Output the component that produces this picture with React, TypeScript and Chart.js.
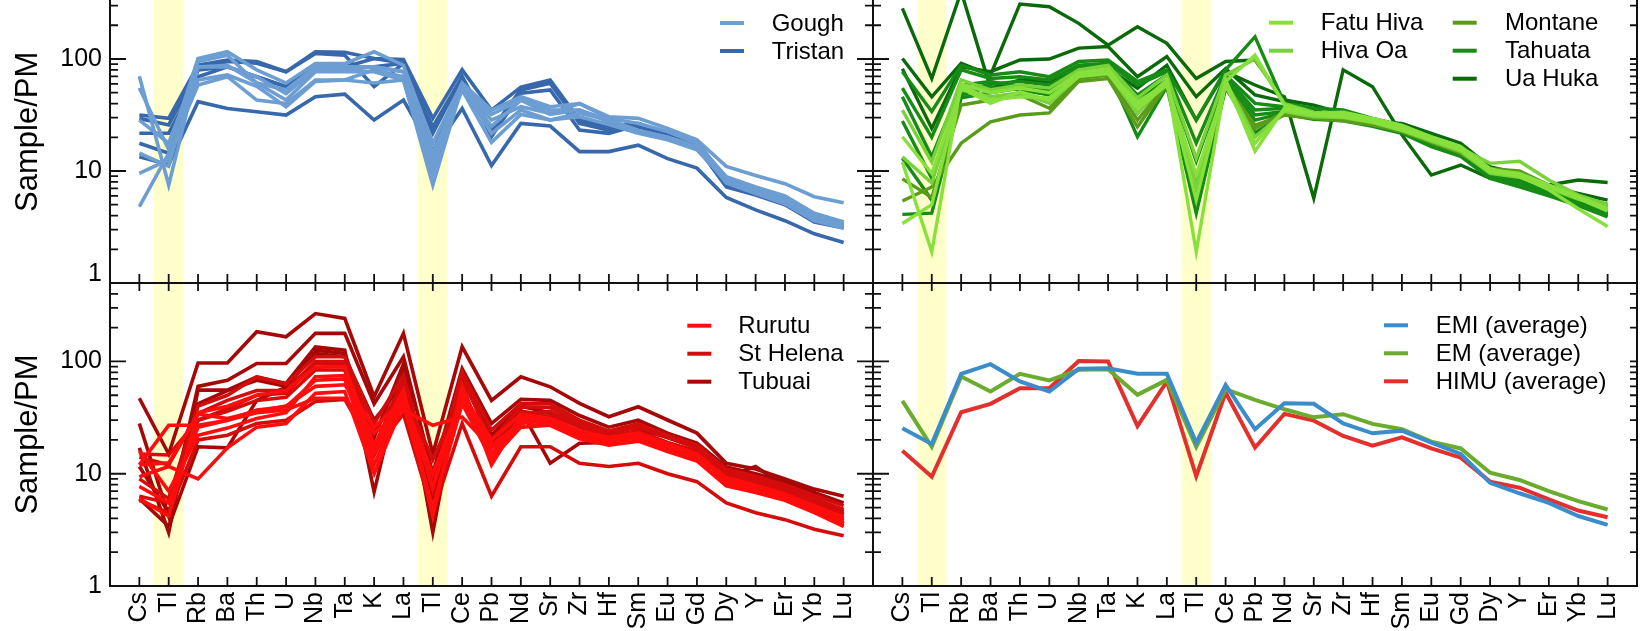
import { useEffect, useRef } from 'react';
import { Chart, registerables } from 'chart.js';

Chart.register(...registerables);

const FONT = "'Liberation Sans', Arial, Helvetica, sans-serif";
Chart.defaults.font.family = FONT;
Chart.defaults.color = '#000';

// Primitive-mantle normalised element order (Tl appears twice)
const elements = ['Cs', 'Tl', 'Rb', 'Ba', 'Th', 'U', 'Nb', 'Ta', 'K', 'La', 'Tl', 'Ce', 'Pb', 'Nd', 'Sr', 'Zr', 'Hf', 'Sm', 'Eu', 'Gd', 'Dy', 'Y', 'Er', 'Yb', 'Lu'];
const highlightedIdx = [1, 10];
const majorTicks = [1, 10, 100];
const minorTicks = [2, 3, 4, 5, 6, 7, 8, 9, 20, 30, 40, 50, 60, 70, 80, 90, 200, 300, 400];

// ---- Gough / Tristan ----
const gough1 = [70, 7.5, 85, 88, 61, 43, 77, 77, 77, 65, 7.5, 57, 32, 43, 35, 35, 28.5, 23, 20, 16.5, 8.3, 6.7, 5.5, 3.9, 3.3];
const gough2 = [55, 15.5, 101, 116, 80, 61, 91, 91, 116, 88, 17.7, 61, 35, 46, 37.5, 40, 30.5, 29.5, 24, 19, 11, 9.1, 7.7, 5.9, 5.2];
const gough3 = [14.4, 11, 95, 108, 61, 53, 85, 85, 85, 77, 14.4, 55, 25, 43, 32, 35, 27.5, 22.5, 19.5, 16, 8.5, 6.9, 5.7, 4.0, 3.4];
const gough4 = [9.5, 12.6, 65, 72, 57, 37.5, 63, 65, 80, 69.5, 11, 53, 18, 32, 28.5, 30.5, 26, 21.7, 19, 15.5, 8.1, 6.5, 5.3, 3.8, 3.2];
const gough5 = [4.8, 14.4, 58.6, 69.5, 43, 40, 65, 65, 61, 65, 9.5, 57, 21.7, 35, 28.5, 32.7, 28.5, 23, 20, 16.5, 7.8, 6.3, 5.1, 3.6, 3.1];
const gough6 = [28.5, 17.7, 85, 85, 69.5, 49, 80, 80, 85, 77, 12.6, 59, 28.5, 37.5, 32.7, 40, 29.5, 26.6, 22.5, 17.7, 8.9, 7.2, 6.0, 4.2, 3.5];

const tristan1 = [13.4, 11.4, 41.6, 36.2, 33.8, 31.6, 46, 48.6, 28.5, 43, 15, 36.2, 11.2, 26.6, 25.2, 14.9, 14.9, 17, 12.9, 10.6, 5.8, 4.5, 3.6, 2.75, 2.3];
const tristan2 = [31.6, 29.5, 88, 98, 95, 77, 116, 115, 101, 99, 29.5, 80, 35, 56, 65, 28.5, 25, 26.6, 21.7, 18.4, 8.3, 6.8, 5.6, 3.9, 3.4];
const tristan3 = [29.5, 25.8, 80, 95, 91.5, 77, 112, 108, 56.6, 91.5, 24.8, 69.5, 23.2, 53, 60.6, 26.6, 23.2, 24.8, 21, 17.7, 8.1, 6.6, 5.5, 3.9, 3.4];
const tristan4 = [21.7, 21.7, 69.5, 85, 69.5, 56.6, 85, 85, 101, 91.5, 21.7, 69.5, 20.3, 49.4, 53, 23.2, 21.7, 25.7, 21.7, 17, 7.5, 6.3, 5.1, 3.6, 3.2];
const tristan5 = [17.7, 14.4, 80, 85, 69.5, 56.6, 85, 85, 85, 91.5, 14.4, 65, 23.2, 53, 63, 27.5, 23.2, 24.8, 20.3, 16.5, 7.2, 6.1, 5.0, 3.5, 3.1];

// ---- Marquesas ----
const fatuHiva1 = [12, 1.9, 60, 50, 55, 50, 75, 82, 38, 65, 1.9, 63, 108, 38.8, 32.7, 33.5, 29.5, 25.5, 20.2, 16.5, 10.5, 9, 6.8, 4.6, 3.2];
const fatuHiva2 = [3.4, 5.0, 58.6, 43, 46, 45, 72, 77, 41.6, 60, 5.5, 65, 15, 36.3, 31.6, 31.6, 28, 24, 19.5, 15.5, 10.2, 9.5, 7.5, 5.9, 4.6];
const fatuHiva3 = [20.2, 9.5, 55, 40.2, 51, 43, 70, 74, 36.3, 58.6, 9.2, 58, 17.7, 35, 31.6, 30.5, 27.5, 23.2, 19, 15.5, 9.8, 9, 7.2, 5.7, 4.4];
const hivaOa1 = [35, 12, 65, 53, 58.6, 55, 80, 88, 45, 72, 13, 72, 100, 40, 33.5, 33, 29, 25, 19.8, 16, 11.7, 12.2, 8.3, 6.1, 5.0];
const hivaOa2 = [13.4, 7.8, 53, 46, 50, 40.2, 70, 75, 32.7, 63, 7.2, 63, 20, 34, 30.5, 30, 27, 23, 18.5, 15, 9.5, 8.8, 7, 5.6, 4.8];
const montane1 = [5.4, 7.2, 17.7, 27.5, 31.6, 33, 63, 67, 24.8, 58.6, 6.8, 58.6, 25.7, 31.6, 29.5, 28, 25.7, 22.5, 18.9, 15, 10.5, 10, 7.5, 6, 4.8];
const montane2 = [8.5, 5.8, 38.8, 43, 47.7, 36.3, 67, 72, 28.5, 60, 6.3, 56.6, 24, 34, 30, 29.5, 26.6, 22.5, 18, 14.4, 9.8, 9, 7.3, 6.1, 5.0];
const tahuata1 = [77, 34, 88, 72, 77, 69.5, 95, 98, 63, 80, 28.5, 80, 158, 40.2, 36.3, 35, 29.5, 25.7, 20.2, 16, 10.2, 8.6, 7, 5.7, 4.6];
const tahuata2 = [55, 20, 80, 67, 69.5, 65, 88, 91.5, 58.6, 77, 17.7, 72, 40.2, 37.5, 32.7, 32.7, 28.5, 24, 19.5, 15.5, 9.5, 8, 6.7, 5.5, 4.2];
const tahuata3 = [46, 13.4, 58.6, 63, 56.6, 54.7, 85, 88, 47.7, 72, 12.2, 69.5, 35, 36.3, 32.7, 31.6, 27.5, 23.2, 18.9, 15, 9.2, 7.8, 6.5, 5.3, 4.1];
const tahuata4 = [28, 8.6, 51, 60, 63, 58.6, 82, 85, 43, 65, 8.3, 65, 31.6, 34, 30.5, 30.5, 26.6, 22.5, 18.2, 14.4, 9, 7.6, 6.4, 5.2, 4.3];
const tahuata5 = [13, 5.5, 47.7, 56.6, 53, 47.7, 77, 80, 32.7, 63, 4.5, 60, 28.5, 33, 29.5, 29, 25.7, 22, 17.7, 14, 8.8, 7.4, 6.2, 5.0, 4.0];
const tahuata6 = [4.1, 4.2, 45, 50, 55, 52, 75, 78, 20.2, 56.6, 4.2, 55, 22, 32, 29, 28, 25, 21.7, 16.5, 13.5, 8.6, 7.2, 6.0, 4.9, 3.9];
const uaHuka1 = [283, 67, 400, 55, 65, 63, 80, 82, 55, 88, 28.5, 77, 58.6, 46, 5.7, 80, 56.6, 21, 9.2, 11.3, 8.6, 8.3, 7.5, 8.3, 7.9];
const uaHuka2 = [101, 46, 91.5, 72, 310, 293, 208, 133, 194, 138, 67, 95, 98, 43, 38.8, 32.7, 27.5, 26.6, 21.7, 17.7, 10.9, 9.5, 7.2, 6.3, 5.5];
const uaHuka3 = [82, 24, 85, 77, 98, 100, 125, 129, 69.5, 105, 46, 82, 47.7, 41.6, 35, 30.5, 26.6, 24, 17.7, 14.4, 9.5, 8.3, 7.2, 5.9, 5.0];

// ---- Austral / St Helena ----
const rurutu1 = [12, 27, 27, 30, 35, 37, 47, 47, 23, 37, 27, 32, 17, 26, 28, 21, 19, 20, 16.3, 13.3, 8.2, 7.2, 6.2, 4.8, 3.9];
const rurutu2 = [9.4, 11.6, 9, 17, 26, 28, 52, 54, 10, 42, 5, 42, 13.5, 26, 27, 20.5, 18, 19.5, 15.8, 13, 7.8, 6.8, 5.8, 4.5, 3.4];
const rurutu3 = [6, 4.2, 35, 40, 50, 55, 89, 90, 18, 56, 4.2, 60, 12, 32, 30, 23, 20, 22, 18, 14.5, 9, 7.7, 6.5, 5.1, 4.0];
const rurutu4 = [7.7, 5.5, 26, 30, 36.9, 39.5, 68, 70, 12, 48.5, 4.8, 48, 15, 30, 28, 22, 19, 20.5, 16.8, 14, 8.6, 7.4, 6.2, 4.9, 3.8];
const rurutu5 = [12, 12.5, 34, 31, 36, 40, 60, 62, 26, 45, 10, 45, 18, 28, 30, 22, 19.5, 21, 17, 14, 8.4, 7.3, 6.1, 4.8, 3.6];
const rurutu6 = [16, 7, 22, 25.5, 31, 35, 73, 75, 15, 52, 7.5, 52, 20, 34, 31, 24, 21, 23, 18.5, 15, 9.2, 7.9, 6.6, 5.2, 4.1];
const stHelena1 = [9, 6, 40, 50, 73, 63, 110, 110, 28, 75, 8, 80, 24.5, 42, 42, 30, 24, 28, 22, 18, 11, 9.5, 8, 6.4, 5.2];
const stHelena2 = [14, 12, 34.5, 45, 55, 55, 100, 100, 17, 70, 7, 70, 20, 39.5, 39, 28, 23, 26, 21, 17, 10.5, 9, 7.5, 6, 4.8];
const stHelena3 = [6.3, 5.5, 30, 38, 50, 52, 96, 95, 23, 62, 4.5, 62, 13, 36, 33, 26, 22, 24, 19, 16, 10, 8.5, 7, 5.6, 4.4];
const stHelena4 = [15, 14.7, 30, 36, 45, 48, 84, 84, 14.5, 53, 13.3, 52, 17, 34, 36, 26, 21.5, 23.5, 18.7, 15.2, 9.4, 8.2, 6.8, 5.5, 4.3];
const stHelena5 = [5.8, 4.5, 20, 22, 28, 30, 44, 46, 16, 34, 4.5, 28, 6.3, 17.4, 17.4, 12.4, 11.6, 12.4, 10, 8.5, 5.5, 4.5, 3.9, 3.2, 2.8];
const tubuai1 = [47, 15, 97, 97, 184, 166, 267, 242, 48.5, 178, 15, 135, 45, 73, 59.5, 42.3, 32.2, 39.5, 30.1, 23, 12.4, 11, 9, 7.3, 6.3];
const tubuai2 = [28, 4.2, 60, 68, 96, 96, 178, 178, 42, 110, 10, 86, 28, 46, 45, 33, 26, 30, 23, 18.7, 11.5, 10, 8.5, 6.8, 5.5];
const tubuai3 = [17, 3.0, 55.6, 55.6, 73, 63.7, 135, 126, 6.9, 85, 3.0, 73, 19, 36.9, 12.4, 18.7, 19, 25, 21, 17, 9.4, 11.6, 7.7, 6, 4.6];
const tubuai4 = [11.6, 4.5, 42, 55, 68, 60, 126, 118, 21, 95, 5.5, 68, 22, 40, 35, 28, 23, 27, 22, 17.5, 10, 9, 7.2, 5.4, 3.6];
const tubuai5 = [6, 3.4, 17.4, 17, 45, 59, 118, 110, 30, 63.7, 6, 55, 15, 30, 30, 24, 20, 22, 18, 15, 9, 8, 6.5, 4.9, 3.4];

// ---- Mantle end-member averages ----
const emiAverage = [25.4, 18.4, 77.6, 94.6, 66.3, 54, 86, 87, 77.6, 77.6, 18.9, 61.9, 24.9, 42.5, 42, 28.1, 22.9, 24.2, 18.9, 15.0, 8.3, 6.7, 5.5, 4.2, 3.5];
const emAverage = [44.5, 17.4, 73.5, 54, 77.6, 67.7, 84.3, 85.4, 50.4, 68.6, 17.4, 56.6, 45.5, 37.5, 31.8, 33.9, 27.8, 24.9, 19.3, 16.8, 10.2, 8.8, 7.0, 5.7, 4.8];
const himuAverage = [16.0, 9.4, 35.3, 41.9, 57.8, 57.8, 101, 100, 26.6, 66.3, 9.5, 52.9, 17.1, 34.1, 29.7, 21.7, 17.8, 21.1, 16.8, 13.9, 8.5, 7.5, 5.9, 4.7, 4.1];

type Series = { label: string; color: string; lines: number[][] };
type LegendEntry = { label: string; color: string; dx0: number; dx1: number; tx: number; dy: number };
type Pad = { left: number; right: number; top: number; bottom: number };
type PanelProps = {
  left: number; top: number; width: number; height: number; padding: Pad;
  series: Series[]; legend: LegendEntry[]; lineWidth: number;
  showY: boolean; showX: boolean; liftBottomLabel: boolean; rightTicks: [number, number];
};

const BAND_FILL = 'rgb(255,255,204)';
const INK = '#111';
const X_LABEL_BAND = 45;

const gough: Series = { label: 'Gough', color: '#6C9DD3', lines: [gough1, gough2, gough3, gough4, gough5, gough6] };
const tristan: Series = { label: 'Tristan', color: '#3868AC', lines: [tristan1, tristan2, tristan3, tristan4, tristan5] };
const fatuHiva: Series = { label: 'Fatu Hiva', color: '#88E03C', lines: [fatuHiva1, fatuHiva2, fatuHiva3] };
const hivaOa: Series = { label: 'Hiva Oa', color: '#78D23A', lines: [hivaOa1, hivaOa2] };
const montane: Series = { label: 'Montane', color: '#5A9C1A', lines: [montane1, montane2] };
const tahuata: Series = { label: 'Tahuata', color: '#168C16', lines: [tahuata1, tahuata2, tahuata3, tahuata4, tahuata5, tahuata6] };
const uaHuka: Series = { label: 'Ua Huka', color: '#0A6A0A', lines: [uaHuka1, uaHuka2, uaHuka3] };
const rurutu: Series = { label: 'Rurutu', color: '#FF0C0C', lines: [rurutu1, rurutu2, rurutu3, rurutu4, rurutu5, rurutu6] };
const stHelena: Series = { label: 'St Helena', color: '#D40C0C', lines: [stHelena1, stHelena2, stHelena3, stHelena4, stHelena5] };
const tubuai: Series = { label: 'Tubuai', color: '#A60808', lines: [tubuai1, tubuai2, tubuai3, tubuai4, tubuai5] };
const emi: Series = { label: 'EMI (average)', color: '#3A8CCA', lines: [emiAverage] };
const em: Series = { label: 'EM (average)', color: '#6BAC2E', lines: [emAverage] };
const himu: Series = { label: 'HIMU (average)', color: '#E3302C', lines: [himuAverage] };

function legendColumn(items: Series[], dx0: number, tx: number, dy0: number): LegendEntry[] {
  return items.map((s, i) => ({ label: s.label, color: s.color, dx0, dx1: dx0 + 24, tx, dy: dy0 + i * 28 }));
}

function makeFrame(p: PanelProps) {
  return {
    id: 'spiderFrame',
    beforeDatasetsDraw(chart: any) {
      const { ctx, chartArea: a } = chart;
      const x = chart.scales.x;
      ctx.save();
      ctx.fillStyle = BAND_FILL;
      for (const c of highlightedIdx) {
        const x0 = x.getPixelForValue(c - 0.5);
        const x1 = x.getPixelForValue(c + 0.5);
        ctx.fillRect(x0, a.top, x1 - x0, a.bottom - a.top);
      }
      ctx.restore();
    },
    afterDatasetsDraw(chart: any) {
      const { ctx, chartArea: a } = chart;
      const { x, y } = chart.scales;
      ctx.save();
      ctx.strokeStyle = INK;
      ctx.lineWidth = 1.8;
      ctx.beginPath();
      elements.forEach((_, i) => {
        const px = x.getPixelForValue(i);
        ctx.moveTo(px, a.bottom);
        ctx.lineTo(px, a.bottom - 9);
        ctx.moveTo(px, a.top);
        ctx.lineTo(px, a.top + 8);
      });
      const yTick = (v: number, inLeft: number, inRight: number) => {
        const py = y.getPixelForValue(v);
        ctx.moveTo(a.left, py);
        ctx.lineTo(a.left + inLeft, py);
        ctx.moveTo(a.right, py);
        ctx.lineTo(a.right - inRight, py);
      };
      majorTicks.filter((v) => v > 1).forEach((v) => yTick(v, 16, p.rightTicks[0]));
      minorTicks.forEach((v) => yTick(v, 8, p.rightTicks[1]));
      ctx.stroke();
      ctx.lineWidth = 2;
      ctx.strokeRect(a.left, a.top, a.right - a.left, a.bottom - a.top);
      ctx.restore();
    },
    afterDraw(chart: any) {
      const { ctx, chartArea: a } = chart;
      ctx.save();
      ctx.font = `24px ${FONT}`;
      ctx.textBaseline = 'middle';
      ctx.textAlign = 'left';
      ctx.fillStyle = '#000';
      for (const e of p.legend) {
        const yy = a.top + e.dy;
        ctx.strokeStyle = e.color;
        ctx.lineWidth = 4;
        ctx.lineCap = 'butt';
        ctx.beginPath();
        ctx.moveTo(a.right + e.dx0, yy);
        ctx.lineTo(a.right + e.dx1, yy);
        ctx.stroke();
        ctx.fillText(e.label, a.right + e.tx, yy + 1);
      }
      ctx.restore();
    },
  };
}

function Panel(p: PanelProps) {
  const ref = useRef<HTMLCanvasElement>(null);
  useEffect(() => {
    const canvas = ref.current;
    if (!canvas) return;
    const datasets = p.series.flatMap((s) =>
      s.lines.map((vals) => ({
        label: s.label,
        data: vals.map((v, i) => ({ x: i, y: v })),
        borderColor: s.color,
        backgroundColor: s.color,
        borderWidth: p.lineWidth,
        pointRadius: 0,
        pointHoverRadius: 0,
        fill: false,
        tension: 0,
      }))
    );
    const chart = new Chart(canvas, {
      type: 'line',
      data: { datasets },
      options: {
        responsive: false,
        animation: false,
        events: [],
        layout: { padding: p.padding },
        plugins: { legend: { display: false }, tooltip: { enabled: false } },
        scales: {
          x: {
            type: 'linear',
            min: -1,
            max: 25,
            display: p.showX,
            grid: { display: false, drawTicks: false },
            border: { display: false },
            afterBuildTicks: (s: any) => {
              s.ticks = elements.map((_, i) => ({ value: i }));
            },
            ticks: {
              autoSkip: false,
              minRotation: 90,
              maxRotation: 90,
              padding: 6,
              color: '#000',
              font: { size: 25, family: FONT },
              callback: (v: any) => elements[Math.round(Number(v))] ?? '',
            },
            afterFit: (s: any) => {
              s.height = p.showX ? X_LABEL_BAND : 0;
              s.paddingLeft = 0;
              s.paddingRight = 0;
            },
          },
          y: {
            type: 'logarithmic',
            min: 1,
            max: 500,
            display: p.showY,
            grid: { display: false, drawTicks: false },
            border: { display: false },
            afterBuildTicks: (s: any) => {
              s.ticks = majorTicks.map((v) => ({ value: v }));
            },
            ticks: {
              padding: 8,
              color: '#000',
              font: (c: any) => ({
                size: 25,
                family: FONT,
                lineHeight: p.liftBottomLabel && c.tick && c.tick.value === 1 ? '18px' : 1.2,
              }),
              callback: (v: any) => (p.liftBottomLabel && Number(v) === 1 ? ['1', ''] : String(v)),
            },
            title: {
              display: true,
              text: 'Sample/PM',
              color: '#000',
              font: { size: 31, family: FONT },
              padding: { top: 10, bottom: 0 },
            },
            afterFit: (s: any) => {
              s.width = p.showY ? 110 : 0;
              s.paddingTop = 0;
              s.paddingBottom = 0;
            },
          },
        },
      } as any,
      plugins: [makeFrame(p) as any],
    });
    return () => chart.destroy();
  }, []);
  return (
    <canvas
      ref={ref}
      width={p.width}
      height={p.height}
      style={{ position: 'absolute', left: p.left, top: p.top, width: p.width, height: p.height }}
    />
  );
}

export default function App() {
  const topPad = { top: 10.7, bottom: 17 };
  const botPad = { top: 13, bottom: 0 };
  return (
    <div style={{ position: 'absolute', left: 0, top: 0, width: 1640, height: 631, overflow: 'hidden', background: '#fff' }}>
      <Panel
        left={0} top={-30} width={880} height={330}
        padding={{ left: 0, right: 7, ...topPad }}
        series={[gough, tristan]}
        legend={legendColumn([gough, tristan], -153, -101.3, 42.3)}
        lineWidth={3.6}
        showY showX={false} liftBottomLabel rightTicks={[16, 8]}
      />
      <Panel
        left={860} top={-30} width={780} height={330}
        padding={{ left: 13, right: 3, ...topPad }}
        series={[fatuHiva, hivaOa, montane, tahuata, uaHuka]}
        legend={[
          ...legendColumn([fatuHiva, hivaOa], -368, -316.3, 42),
          ...legendColumn([montane, tahuata, uaHuka], -184.3, -132, 42),
        ]}
        lineWidth={3.4}
        showY={false} showX={false} liftBottomLabel={false} rightTicks={[7, 7]}
      />
      <Panel
        left={0} top={270} width={880} height={361}
        padding={{ left: 0, right: 7, ...botPad }}
        series={[rurutu, stHelena, tubuai]}
        legend={legendColumn([rurutu, stHelena, tubuai], -185.7, -134.7, 42.7)}
        lineWidth={3.6}
        showY showX liftBottomLabel={false} rightTicks={[16, 8]}
      />
      <Panel
        left={860} top={270} width={780} height={361}
        padding={{ left: 13, right: 3, ...botPad }}
        series={[emi, em, himu]}
        legend={legendColumn([emi, em, himu], -253, -201.3, 42.3)}
        lineWidth={4}
        showY={false} showX liftBottomLabel={false} rightTicks={[7, 7]}
      />
    </div>
  );
}
